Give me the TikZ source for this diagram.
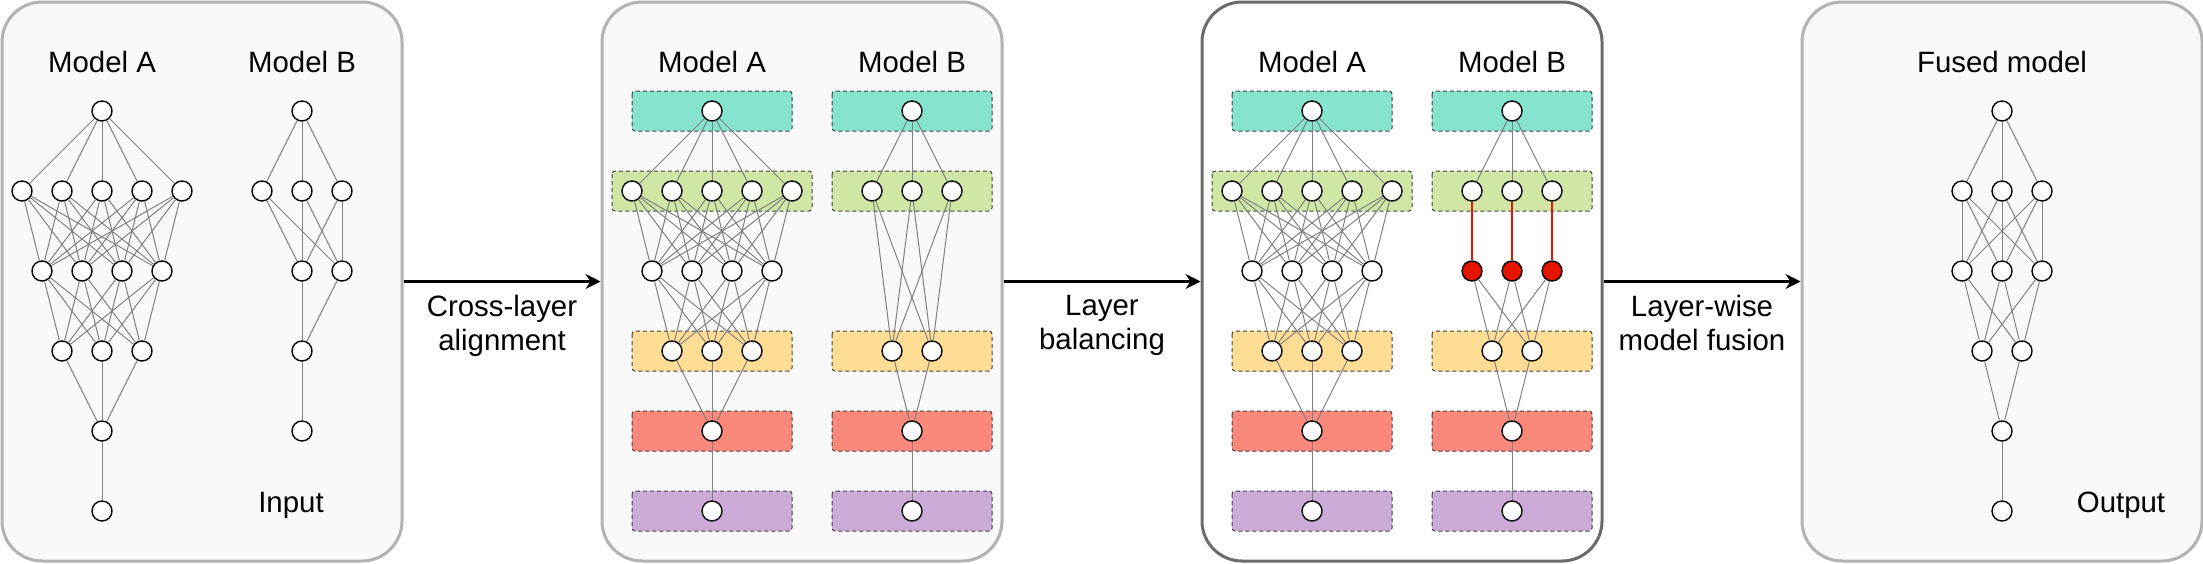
\documentclass[tikz,border=0pt]{standalone}
\usepackage{fontspec}
\setsansfont{Liberation Sans}
\usetikzlibrary{arrows.meta}
\definecolor{lay_t}{HTML}{86E3CE}
\definecolor{lay_g}{HTML}{D0E6A5}
\definecolor{lay_y}{HTML}{FFDD94}
\definecolor{lay_r}{HTML}{FA897B}
\definecolor{lay_p}{HTML}{CCABD8}
\definecolor{fusred}{HTML}{E51400}
\tikzset{
  txt/.style = {align=center, inner sep=0pt, text centered,
    font=\sffamily\fontsize{14.7}{17}\selectfont},
  box/.style = {rectangle, rounded corners=20pt, draw=black!30, fill=black!2.5,
    line width=1.5pt, minimum width=200pt, minimum height=279.5pt},% panneau
  box_d/.style = {box, draw=black!58, fill=white},% panneau actif
  neu_w/.style = {circle, draw=black, fill=white, line width=0.7pt,
    minimum size=10pt, inner sep=0pt},% neurone blanc
  neu_r/.style = {neu_w, fill=fusred},% neurone rouge
  band/.style = {rounded corners=1.5pt, draw=black!75,
    dash pattern=on 2pt off 1.5pt, line width=0.5pt},% couche
  wire/.style = {draw=black!50, line width=0.5pt},
  wire_r/.style = {draw=fusred, line width=1pt},
  flow/.style = {-{Stealth[length=7.5pt, width=7.5pt, inset=2.5pt]},
    line width=1.5pt}
}
\begin{document}
\begin{tikzpicture}[x=0.5pt, y=-0.5pt]
\useasboundingbox (0,0) rectangle (2203,563);
\node [box] (inp) at (202,281.5) {};
\node [box] (aln) at (802,281.5) {};
\node [box_d] (bal) at (1402,281.5) {};
\node [box] (fus) at (2002,281.5) {};

% titres
\node [txt, anchor=base] (ta1) at (102,72) {Model A};
\node [txt, anchor=base] (tb1) at (302,72) {Model B};
\node [txt, anchor=base] (ta2) at (712,72) {Model A};
\node [txt, anchor=base] (tb2) at (912,72) {Model B};
\node [txt, anchor=base] (ta3) at (1312,72) {Model A};
\node [txt, anchor=base] (tb3) at (1512,72) {Model B};
\node [txt, anchor=base] (tf4) at (2002,72) {Fused model};
\node [txt, anchor=base] (tin) at (291,512) {Input};
\node [txt, anchor=base] (tout) at (2121,512) {Output};

% couches
\foreach \ox in {0,600} {
  \foreach \y/\c in {111/lay_t, 351/lay_y, 431/lay_r, 511/lay_p} {
    \draw [band, fill=\c] (632+\ox,\y-20) rectangle (792+\ox,\y+20);
    \draw [band, fill=\c] (832+\ox,\y-20) rectangle (992+\ox,\y+20);
  }
  \draw [band, fill=lay_g] (612+\ox,171) rectangle (812+\ox,211);
  \draw [band, fill=lay_g] (832+\ox,171) rectangle (992+\ox,211);
}

% model A
\foreach \p/\cx in {1/102, 2/712, 3/1312} {
  \node [neu_w] (a\p-1-1) at (\cx,111) {};
  \foreach \i in {1,...,5} \node [neu_w] (a\p-2-\i) at (\cx-120+40*\i,191) {};
  \foreach \i in {1,...,4} \node [neu_w] (a\p-3-\i) at (\cx-100+40*\i,271) {};
  \foreach \i in {1,...,3} \node [neu_w] (a\p-4-\i) at (\cx-80+40*\i,351) {};
  \node [neu_w] (a\p-5-1) at (\cx,431) {};
  \node [neu_w] (a\p-6-1) at (\cx,511) {};
  \foreach \i in {1,...,5} \draw [wire] (a\p-1-1) -- (a\p-2-\i);
  \foreach \i in {1,...,5} \foreach \j in {1,...,4}
    \draw [wire] (a\p-2-\i) -- (a\p-3-\j);
  \foreach \i in {1,...,4} \foreach \j in {1,...,3}
    \draw [wire] (a\p-3-\i) -- (a\p-4-\j);
  \foreach \i in {1,...,3} \draw [wire] (a\p-4-\i) -- (a\p-5-1);
  \draw [wire] (a\p-5-1) -- (a\p-6-1);
}

% model B, entree
\node [neu_w] (b1-1-1) at (302,111) {};
\foreach \i in {1,2,3} \node [neu_w] (b1-2-\i) at (222+40*\i,191) {};
\foreach \i in {1,2} \node [neu_w] (b1-3-\i) at (262+40*\i,271) {};
\node [neu_w] (b1-4-1) at (302,351) {};
\node [neu_w] (b1-5-1) at (302,431) {};
\foreach \i in {1,2,3} \draw [wire] (b1-1-1) -- (b1-2-\i);
\foreach \i in {1,2,3} \foreach \j in {1,2} \draw [wire] (b1-2-\i) -- (b1-3-\j);
\foreach \i in {1,2} \draw [wire] (b1-3-\i) -- (b1-4-1);
\draw [wire] (b1-4-1) -- (b1-5-1);

% model B, alignes
\foreach \p/\cx in {2/912, 3/1512} {
  \node [neu_w] (b\p-1-1) at (\cx,111) {};
  \foreach \i in {1,2,3} \node [neu_w] (b\p-2-\i) at (\cx-80+40*\i,191) {};
  \foreach \i in {1,2} \node [neu_w] (b\p-4-\i) at (\cx-60+40*\i,351) {};
  \node [neu_w] (b\p-5-1) at (\cx,431) {};
  \node [neu_w] (b\p-6-1) at (\cx,511) {};
  \foreach \i in {1,2,3} \draw [wire] (b\p-1-1) -- (b\p-2-\i);
  \foreach \i in {1,2} \draw [wire] (b\p-4-\i) -- (b\p-5-1);
  \draw [wire] (b\p-5-1) -- (b\p-6-1);
}
\foreach \i in {1,2,3} \foreach \j in {1,2} \draw [wire] (b2-2-\i) -- (b2-4-\j);
\foreach \i in {1,2,3} \node [neu_r] (b3-3-\i) at (1432+40*\i,271) {};
\foreach \i in {1,2,3} \draw [wire_r] (b3-2-\i) -- (b3-3-\i);
\foreach \i in {1,2,3} \foreach \j in {1,2} \draw [wire] (b3-3-\i) -- (b3-4-\j);

% model fusionne
\node [neu_w] (f-1-1) at (2002,111) {};
\foreach \i in {1,2,3} \node [neu_w] (f-2-\i) at (1922+40*\i,191) {};
\foreach \i in {1,2,3} \node [neu_w] (f-3-\i) at (1922+40*\i,271) {};
\foreach \i in {1,2} \node [neu_w] (f-4-\i) at (1942+40*\i,351) {};
\node [neu_w] (f-5-1) at (2002,431) {};
\node [neu_w] (f-6-1) at (2002,511) {};
\foreach \i in {1,2,3} \draw [wire] (f-1-1) -- (f-2-\i);
\foreach \i in {1,2,3} \foreach \j in {1,2,3} \draw [wire] (f-2-\i) -- (f-3-\j);
\foreach \i in {1,2,3} \foreach \j in {1,2} \draw [wire] (f-3-\i) -- (f-4-\j);
\foreach \i in {1,2} \draw [wire] (f-4-\i) -- (f-5-1);
\draw [wire] (f-5-1) -- (f-6-1);

% fleches
\draw [flow] (inp) -- node [txt, below=6pt] (s1) {Cross-layer\\alignment} (aln);
\draw [flow] (aln) -- node [txt, below=6pt] (s2) {Layer\\balancing} (bal);
\draw [flow] (bal) -- node [txt, below=6pt] (s3) {Layer-wise\\model fusion} (fus);
\end{tikzpicture}
\end{document}
